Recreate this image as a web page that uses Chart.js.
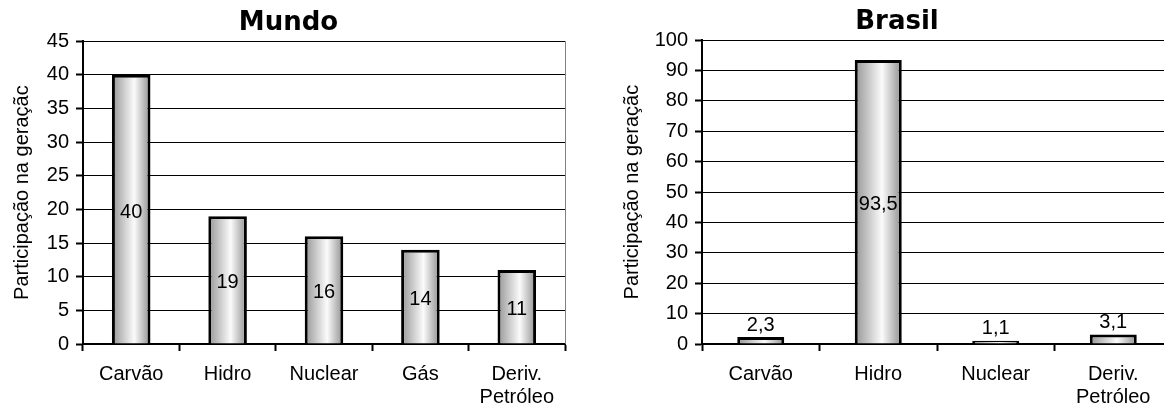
<!DOCTYPE html>
<html>
<head>
<meta charset="utf-8">
<script src="https://cdn.jsdelivr.net/npm/chart.js@4.4.1/dist/chart.umd.min.js"></script>
<style>
  html, body { margin: 0; padding: 0; background: #fff; }
  body { width: 1164px; height: 410px; overflow: hidden; position: relative; }
  canvas { position: absolute; top: 0; }
  #mundo { left: 0; }
  #brasil { left: 610px; }
</style>
</head>
<body>
<canvas id="mundo" width="580" height="410"></canvas>
<canvas id="brasil" width="572" height="410"></canvas>
<script>
// dados
const mundoCategories = ['Carvão', 'Hidro', 'Nuclear', 'Gás', ['Deriv.', 'Petróleo']];
const mundoValues = [40, 19, 16, 14, 11];
const mundoMax = 45;
const mundoStep = 5;

const brasilCategories = ['Carvão', 'Hidro', 'Nuclear', ['Deriv.', 'Petróleo']];
const brasilValues = [2.3, 93.5, 1.1, 3.1];
const brasilMax = 100;
const brasilStep = 10;

const yTitle = 'Participação na geraçãc';
const baseFont = '"Liberation Sans", Arial, sans-serif';

// cylinder-like shading across each bar
function barFill(context) {
    const chart = context.chart;
    if (!chart.chartArea || context.dataIndex === undefined) return '#cccccc';
    const x = chart.scales.x;
    const center = x.getPixelForValue(context.dataIndex);
    const half = (x.width / chart.data.labels.length) * 0.4 / 2;
    const g = chart.ctx.createLinearGradient(center - half, 0, center + half, 0);
    g.addColorStop(0, '#959595');
    g.addColorStop(0.58, '#fbfbfb');
    g.addColorStop(1, '#8f8f8f');
    return g;
}

const valueLabels = {
    id: 'valueLabels',
    afterDatasetsDraw(chart) {
        const ctx = chart.ctx;
        const meta = chart.getDatasetMeta(0);
        const values = chart.data.datasets[0].data;
        ctx.save();
        ctx.font = '20px ' + baseFont;
        ctx.fillStyle = '#000';
        ctx.textAlign = 'center';
        meta.data.forEach((bar, i) => {
            const text = String(values[i]).replace('.', ',');
            const h = bar.base - bar.y;
            if (h > 30) {
                ctx.textBaseline = 'middle';
                ctx.fillText(text, bar.x, (bar.y + bar.base) / 2 + 3);
            } else {
                ctx.textBaseline = 'bottom';
                ctx.fillText(text, bar.x, bar.y - 2);
            }
        });
        ctx.restore();
    }
};

const rightBorder = {
    id: 'rightBorder',
    beforeDatasetsDraw(chart) {
        const {ctx, chartArea} = chart;
        ctx.save();
        ctx.strokeStyle = '#808080';
        ctx.lineWidth = 1;
        ctx.beginPath();
        ctx.moveTo(Math.round(chartArea.right) + 0.5, chartArea.top);
        ctx.lineTo(Math.round(chartArea.right) + 0.5, chartArea.bottom);
        ctx.stroke();
        ctx.restore();
    }
};

function makeChart(id, title, labels, values, max, step, cfg) {
    return new Chart(document.getElementById(id), {
        type: 'bar',
        data: {
            labels: labels,
            datasets: [{
                data: values,
                backgroundColor: barFill,
                borderColor: '#000',
                borderWidth: 3,
                categoryPercentage: 1,
                barPercentage: 0.4,
            }]
        },
        options: {
            responsive: false,
            animation: false,
            devicePixelRatio: 1,
            layout: {
                padding: {left: cfg.padLeft, right: cfg.padRight, top: 0, bottom: 0}
            },
            plugins: {
                legend: { display: false },
                tooltip: { enabled: false },
                title: {
                    display: true,
                    text: title,
                    color: '#000',
                    font: { family: '"DejaVu Sans", Verdana, sans-serif', size: 26, weight: 'bold' },
                    padding: { top: cfg.titleTop, bottom: 2 }
                }
            },
            scales: {
                x: {
                    afterFit(scale) { scale.height = 66; },
                    grid: {
                        offset: true,
                        drawOnChartArea: false,
                        drawTicks: true,
                        tickLength: 7,
                        tickWidth: 2,
                        tickColor: '#000',
                        color: '#000'
                    },
                    border: { color: '#000', width: 2 },
                    ticks: {
                        color: '#000',
                        padding: 12,
                        font: { family: baseFont, size: 20, lineHeight: 1.15 }
                    }
                },
                y: {
                    min: 0,
                    max: max,
                    afterFit(scale) { scale.width = cfg.yWidth; },
                    title: {
                        display: true,
                        text: yTitle,
                        color: '#000',
                        font: { family: baseFont, size: 20, lineHeight: 1 },
                        padding: 0
                    },
                    grid: {
                        color: '#000',
                        lineWidth: 1,
                        tickLength: 7,
                        tickWidth: 2,
                        tickColor: '#000'
                    },
                    border: { color: '#000', width: 2 },
                    ticks: {
                        stepSize: step,
                        color: '#000',
                        padding: 7,
                        font: { family: baseFont, size: 20 }
                    }
                }
            }
        },
        plugins: [rightBorder, valueLabels]
    });
}

makeChart('mundo', 'Mundo', mundoCategories, mundoValues, mundoMax, mundoStep,
    {padLeft: 12, padRight: 15, titleTop: 8, yWidth: 71});
makeChart('brasil', 'Brasil', brasilCategories, brasilValues, brasilMax, brasilStep,
    {padLeft: 12, padRight: 10, titleTop: 7, yWidth: 80});
</script>
</body>
</html>
